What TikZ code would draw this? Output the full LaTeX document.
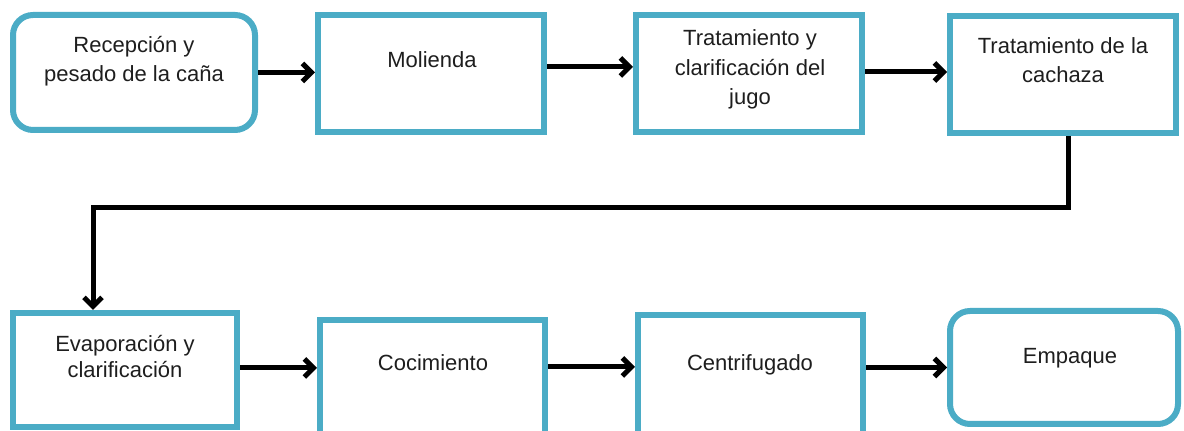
\documentclass[tikz,border=0pt]{standalone}
\usepackage{fontspec}
\setmainfont{Liberation Sans}
\usetikzlibrary{arrows.meta}
\definecolor{boxblue}{HTML}{4BACC6}
\definecolor{txt}{HTML}{1E1E1E}
\begin{document}
\begin{tikzpicture}[x=0.5pt,y=-0.5pt,
  procbox/.style={draw=boxblue, line width=3pt, fill=white, inner sep=0pt, minimum width=113pt, minimum height=58.5pt},
  roundbox/.style={procbox, rounded corners=10pt},
  lbl/.style={anchor=base, align=center, inner sep=0pt, text=txt, font=\fontsize{11pt}{14.75pt}\selectfont},
  flow/.style={draw=black, line width=2.5pt, -{Straight Barb[length=4.5pt,width=9pt]}}]
\useasboundingbox (0,0) rectangle (1184,431);
% top row
\node[roundbox, minimum width=121pt, minimum height=57.5pt] (b1) at (134,72.5) {};
\node[procbox] (b2) at (431,73.5) {};
\node[procbox] (b3) at (749,73.5) {};
\node[procbox] (b4) at (1063,74.5) {};
% bottom row
\node[procbox, minimum width=112pt, minimum height=57pt] (b5) at (125,370) {};
\node[procbox, minimum width=112.5pt, minimum height=60pt] (b6) at (432.5,380) {};
\node[procbox, minimum width=112.5pt, minimum height=61pt] (b7) at (750.5,376) {};
\node[roundbox, minimum width=114pt, minimum height=56.5pt] (b8) at (1064,367.5) {};
% labels (anchor base = baseline of the last line)
\node[lbl] (l1) at (134,82) {Recepción y\\pesado de la caña};
\node[lbl] (l2) at (432,68) {Molienda};
\node[lbl] (l3) at (750,105) {Tratamiento y\\clarificación del\\jugo};
\node[lbl] (l4) at (1063,83) {Tratamiento de la\\cachaza};
\node[lbl, font=\fontsize{11pt}{13pt}\selectfont] (l5) at (125,378) {Evaporación y\\clarificación};
\node[lbl] (l6) at (433,371) {Cocimiento};
\node[lbl] (l7) at (750,371) {Centrifugado};
\node[lbl] (l8) at (1070,364) {Empaque};
% connectors
\draw[flow] (b1.east) -- (b1.east -| b2.west);
\draw[flow] ([yshift=3.25pt]b2.east) -- ([yshift=3.25pt]b2.east -| b3.west);
\draw[flow] ([yshift=0.75pt]b3.east) -- ([yshift=0.75pt]b3.east -| b4.west);
\draw[flow] ([xshift=2.5pt]b4.south) -- ++(0,72) -| ([xshift=-16pt]b5.north);
\draw[flow] ([yshift=1pt]b5.east) -- ([yshift=1pt]b5.east -| b6.west);
\draw[flow] ([yshift=6.5pt]b6.east) -- ([yshift=6.5pt]b6.east -| b7.west);
\draw[flow] (b7.east |- b8.west) -- (b8.west);
\end{tikzpicture}
\end{document}
